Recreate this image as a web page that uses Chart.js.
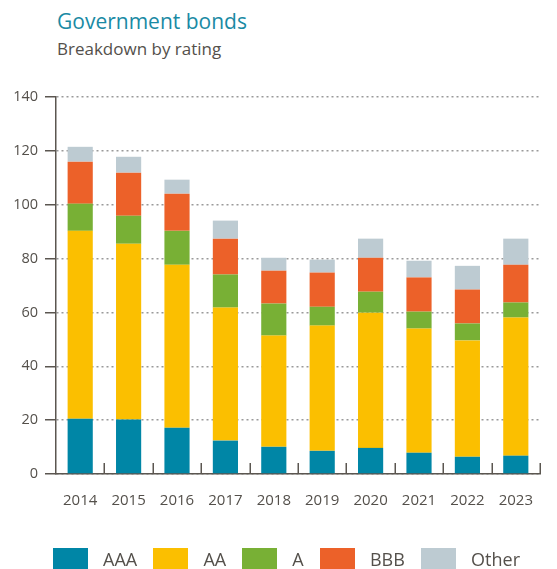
<!DOCTYPE html>
<html>
<head>
<meta charset="utf-8">
<script src="https://cdn.jsdelivr.net/npm/chart.js@4/dist/chart.umd.min.js"></script>
<style>
    body { margin: 0; background: #fff; }
    .wrap { position: relative; width: 557px; height: 569px; overflow: hidden; font-family: "Open Sans", sans-serif; }
    .title { position: absolute; left: 57px; top: 11px; font-size: 21px; line-height: 21px; color: #1a8aa4; white-space: nowrap; }
    .subtitle { position: absolute; left: 57px; top: 40px; font-size: 17px; line-height: 17px; color: #54504b; white-space: nowrap; }
    canvas { position: absolute; left: 0; top: 0; }
    .legend { position: absolute; left: 53px; top: 548px; width: 467px; display: flex; justify-content: space-between; }
    .legend .item { display: flex; align-items: center; height: 21px; font-size: 18px; color: #54504b; white-space: nowrap; }
    .legend .swatch { width: 35px; height: 21px; margin-right: 15px; }
</style>
</head>
<body>
<div class="wrap">
    <div class="title">Government bonds</div>
    <div class="subtitle">Breakdown by rating</div>
    <canvas id="bonds" width="557" height="569"></canvas>
    <div class="legend" id="legend"></div>
</div>
<script>
const years = ["2014", "2015", "2016", "2017", "2018", "2019", "2020", "2021", "2022", "2023"];

const aaa   = [20.5, 20.2, 17.2, 12.4, 10.1, 8.6, 9.7, 7.9, 6.4, 6.8];
const aa    = [69.8, 65.3, 60.5, 49.4, 41.3, 46.5, 50.2, 46.1, 43.2, 51.3];
const a     = [10.1, 10.4, 12.6, 12.3, 11.9, 7.0, 7.8, 6.3, 6.3, 5.6];
const bbb   = [15.6, 16.0, 13.8, 13.3, 12.2, 12.7, 12.6, 12.7, 12.6, 14.0];
const other = [5.5, 5.9, 5.2, 6.7, 4.8, 4.8, 7.1, 6.2, 8.8, 9.7];

const yTicks = [0, 20, 40, 60, 80, 100, 120, 140];

const axisColor = "#5b5650";
const textColor = "#54504b";

// short upward marks on the x axis between the year columns
const categoryTicks = {
    id: "categoryTicks",
    afterDatasetsDraw(chart) {
        const x = chart.scales.x;
        const ctx = chart.ctx;
        const step = (x.right - x.left) / years.length;
        ctx.save();
        ctx.strokeStyle = axisColor;
        ctx.lineWidth = 1.5;
        ctx.beginPath();
        for (let i = 1; i <= years.length; i++) {
            const px = Math.round(x.left + i * step) + 0.25;
            ctx.moveTo(px, x.top);
            ctx.lineTo(px, x.top - 11);
        }
        ctx.stroke();
        ctx.restore();
    }
};

const series = (label, data, color) => ({
    label: label,
    data: data,
    backgroundColor: color,
    borderWidth: 0,
    barPercentage: 0.52,
    categoryPercentage: 1
});

const chart = new Chart(document.getElementById("bonds"), {
    type: "bar",
    data: {
        labels: years,
        datasets: [
            series("AAA", aaa, "#0086a6"),
            series("AA", aa, "#fbbf00"),
            series("A", a, "#78b035"),
            series("BBB", bbb, "#ec6129"),
            series("Other", other, "#bdcbd2")
        ]
    },
    options: {
        responsive: false,
        devicePixelRatio: 1,
        animation: false,
        layout: { padding: { top: 97, left: 0, right: 17, bottom: 0 } },
        plugins: {
            tooltip: { enabled: false },
            legend: { display: false }
        },
        scales: {
            x: {
                stacked: true,
                grid: { display: false, drawTicks: false },
                border: { display: true, color: axisColor, width: 1.5 },
                ticks: {
                    padding: 18,
                    color: textColor,
                    font: { family: "'Open Sans', sans-serif", size: 15 }
                },
                afterFit(scale) { scale.height = 95; }
            },
            y: {
                stacked: true,
                min: 0,
                max: 140,
                afterBuildTicks(scale) { scale.ticks = yTicks.map(v => ({ value: v })); },
                grid: {
                    color: "#9a9a9a",
                    lineWidth: 1.5,
                    tickColor: axisColor,
                    tickLength: 11,
                    tickWidth: 1.5
                },
                border: { display: true, color: axisColor, width: 1.5, dash: [2, 3] },
                ticks: {
                    padding: 7,
                    color: textColor,
                    font: { family: "'Open Sans', sans-serif", size: 14.5 }
                },
                afterFit(scale) { scale.width = 56; }
            }
        }
    },
    plugins: [categoryTicks]
});

// legend row built from the chart's datasets
const legendEl = document.getElementById("legend");
chart.data.datasets.forEach(ds => {
    const item = document.createElement("div");
    item.className = "item";
    const swatch = document.createElement("span");
    swatch.className = "swatch";
    swatch.style.background = ds.backgroundColor;
    item.appendChild(swatch);
    item.appendChild(document.createTextNode(ds.label));
    legendEl.appendChild(item);
});
</script>
</body>
</html>
